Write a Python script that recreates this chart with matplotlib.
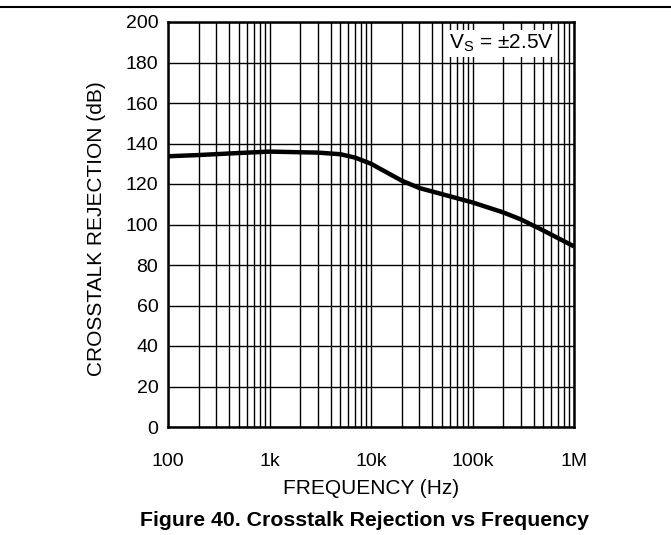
import numpy as np
import matplotlib
matplotlib.use('Agg')
import matplotlib.pyplot as plt
from matplotlib.ticker import FixedLocator, NullFormatter

plt.rcParams['font.family'] = ['Liberation Sans', 'DejaVu Sans']
plt.rcParams['mathtext.fontset'] = 'custom'
plt.rcParams['mathtext.rm'] = 'Liberation Sans'

# Curve
freq = [100, 200, 500, 1000, 3000, 5000, 7000, 10000, 20000, 30000, 50000,
        100000, 200000, 300000, 500000, 1000000]
rejection = [133.7, 134.3, 135.3, 136.0, 135.5, 134.7, 133.0, 130.0, 121.7,
             118.0, 115.0, 110.9, 106.0, 102.5, 97.0, 89.2]

x_ticks = [100, 1000, 10000, 100000, 1000000]
x_labels = ['100', '1k', '10k', '100k', '1M']
y_ticks = list(range(0, 201, 20))

fig = plt.figure(figsize=(6.71, 5.35), dpi=100)
ax = fig.add_axes([168 / 671, 1 - 427 / 535, (574 - 168) / 671, (427 - 22) / 535])

ax.set_xscale('log')
ax.set_xlim(100, 1e6)
ax.set_ylim(0, 200)

# grid: every 1..9 per decade, every 20 dB
minor = [m * 10 ** d for d in range(2, 6) for m in range(2, 10)]
ax.xaxis.set_major_locator(FixedLocator(x_ticks))
ax.xaxis.set_minor_locator(FixedLocator(minor))
ax.xaxis.set_minor_formatter(NullFormatter())
ax.set_xticklabels(x_labels)
ax.set_yticks(y_ticks)
ax.grid(True, which='both', color='black', linewidth=1.0)
ax.set_axisbelow(True)
ax.tick_params(which='both', length=0, labelsize=14)
ax.tick_params(axis='x', pad=19)
ax.tick_params(axis='y', pad=7)

for s in ax.spines.values():
    s.set_linewidth(1.8)

ax.plot(freq, rejection, color='black', linewidth=3.2, solid_capstyle='butt')

ax.text(0.693, 0.948, r'V$_\mathrm{S}$ = ±2.5V', transform=ax.transAxes,
        fontsize=15, ha='left', va='center',
        bbox=dict(facecolor='white', edgecolor='none', pad=2))

ax.set_xlabel('FREQUENCY (Hz)', fontsize=15, va='center')
ax.xaxis.set_label_coords(0.5, -0.153)
ax.set_ylabel('CROSSTALK REJECTION (dB)', fontsize=15, va='center')
ax.yaxis.set_label_coords(-0.175, 0.49)

fig.text(364 / 671, 1 - 520 / 535, 'Figure 40. Crosstalk Rejection vs Frequency',
         fontsize=15.3, fontweight='bold', ha='center', va='center')

# rule across the top of the page
fig.add_artist(plt.Line2D([0, 1], [1 - 7 / 535, 1 - 7 / 535], color='black',
                          linewidth=1.5, transform=fig.transFigure))

fig.savefig('out.png', dpi=100)
